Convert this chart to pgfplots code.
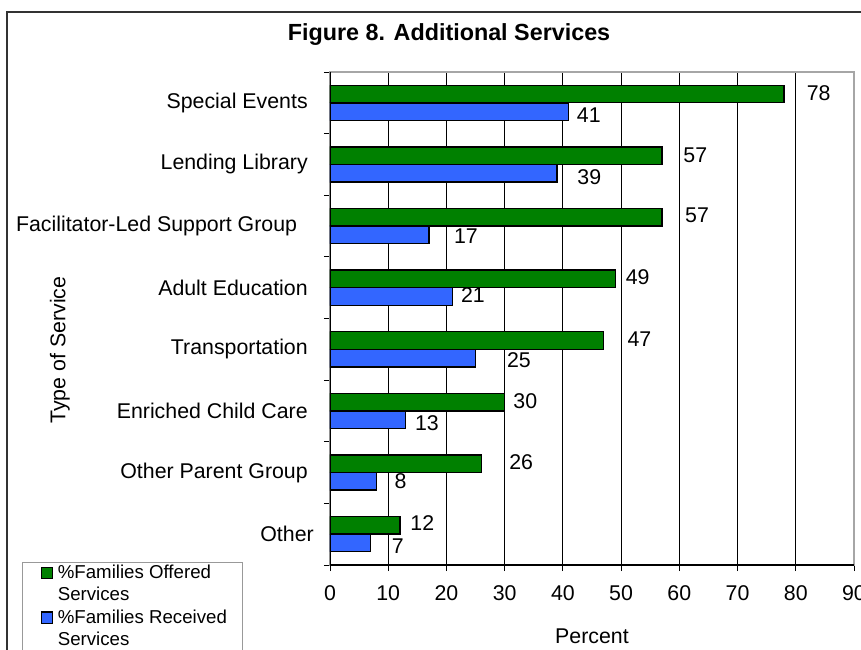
\documentclass[border=0pt]{standalone}
\usepackage{fontspec}
\setmainfont{Liberation Sans}
\usepackage{pgfplots}
\usepackage{pgfplotstable}
\pgfplotsset{compat=1.18}
\definecolor{offgreen}{RGB}{0,128,0}
\definecolor{recblue}{RGB}{51,102,255}
\pgfplotstableread{
y off rec dxo dyo dxr dyr
7 78 41 16.5 1.0 5.7 -2.1
6 57 39 15.7 0.8 14.8 -2.5
5 57 17 17.0 1.5 18.3 -1.0
4 49 21 7.4 1.3 6.1 1.3
3 47 25 17.5 1.5 23.1 -1.0
2 30 13 6.1 1.0 6.5 -2.0
1 26 8 20.5 1.5 13.1 0.0
0 12 7 7.4 1.5 15.3 -2.0
}\datatable
\newcommand{\lblfont}{\fontsize{16}{18.5}\selectfont}
\newcommand{\barlabel}[3]{\hspace*{#1pt}\raisebox{\dimexpr #2pt-5.7pt\relax}[0pt][0pt]{#3}}
\begin{document}
\begin{tikzpicture}
\useasboundingbox (-247.5pt,-63.75pt) rectangle (398.25pt,423.75pt);
\draw[line width=1.1pt, black!80] (-242.25pt,-100pt) rectangle (450pt,414.75pt);
\begin{axis}[
  scale only axis, width=393pt, height=369.75pt,
  xbar, bar width=13.1pt,
  xmin=0, xmax=90, ymin=-0.5, ymax=7.5,
  axis line style={draw=gray!70, line width=0.8pt},
  xtick={0,10,...,90},
  xtick pos=lower, ytick pos=left, tick align=outside,
  major tick length=4.5pt,
  tick style={black, line width=0.7pt},
  xmajorgrids, major grid style={black, line width=0.6pt},
  ytick={-0.5,0.5,...,7.5}, yticklabels={},
  extra y ticks={0,...,7},
  extra y tick labels={Other\hspace*{-4.5pt}, Other Parent Group, Enriched Child Care, Transportation, Adult Education, Facilitator-Led Support Group\hspace*{8pt}, Lending Library, Special Events},
  extra y tick style={tick style={draw=none}},
  ticklabel style={font=\lblfont},
  /pgf/number format/assume math mode=true,
  yticklabel style={anchor=east, inner sep=0pt, xshift=-12pt},
  xticklabel style={inner sep=0pt, yshift=-11pt},
  xlabel={Percent},
  xlabel style={font=\lblfont, at={(rel axis cs:0.5,-0.144)}, anchor=center},
  ylabel={Type of Service},
  ylabel style={font=\lblfont, at={(rel axis cs:-0.5153,0.436)}, anchor=center, rotate=0},
  title={\textbf{Figure 8. Additional Services}},
  title style={font=\fontsize{17.5}{20}\selectfont, at={(rel axis cs:0.2271,1.0608)}, anchor=center},
  legend image code/.code={\path[draw=none, fill=none] (0pt,8pt) -- (14.5pt,8pt); \draw[#1, line width=0.9pt] (4pt,3.9pt) rectangle (12.6pt,12.5pt);},
  legend style={at={(rel axis cs:-0.5878,0.0061)}, anchor=north west, draw=gray!80, line width=0.8pt,
    font=\fontsize{14}{16.5}\selectfont, cells={anchor=west, align=left}, row sep=1.4pt, inner xsep=10pt, inner ysep=0pt},
]
\addplot[fill=offgreen, draw=black, line width=1pt, bar shift=6.6pt,
  visualization depends on={\thisrow{dxo}\as\dxo},
  visualization depends on={\thisrow{dyo}\as\dyo},
  nodes near coords={\barlabel{\dxo}{\dyo}{\pgfmathprintnumber{\pgfplotspointmeta}}},
  nodes near coords style={anchor=west, inner sep=0pt, font=\lblfont, text=black}]
  table[x=off, y=y]{\datatable};
\addlegendentry{\%Families Offered\\Services}
\addplot[fill=recblue, draw=black, line width=1pt, bar shift=-6.6pt,
  visualization depends on={\thisrow{dxr}\as\dxr},
  visualization depends on={\thisrow{dyr}\as\dyr},
  nodes near coords={\barlabel{\dxr}{\dyr}{\pgfmathprintnumber{\pgfplotspointmeta}}},
  nodes near coords style={anchor=west, inner sep=0pt, font=\lblfont, text=black}]
  table[x=rec, y=y]{\datatable};
\addlegendentry{\%Families Received\\Services}
\draw[black, line width=0.9pt] (rel axis cs:0,1) -- (rel axis cs:0,0) -- (rel axis cs:1,0);
\end{axis}
\end{tikzpicture}
\end{document}
